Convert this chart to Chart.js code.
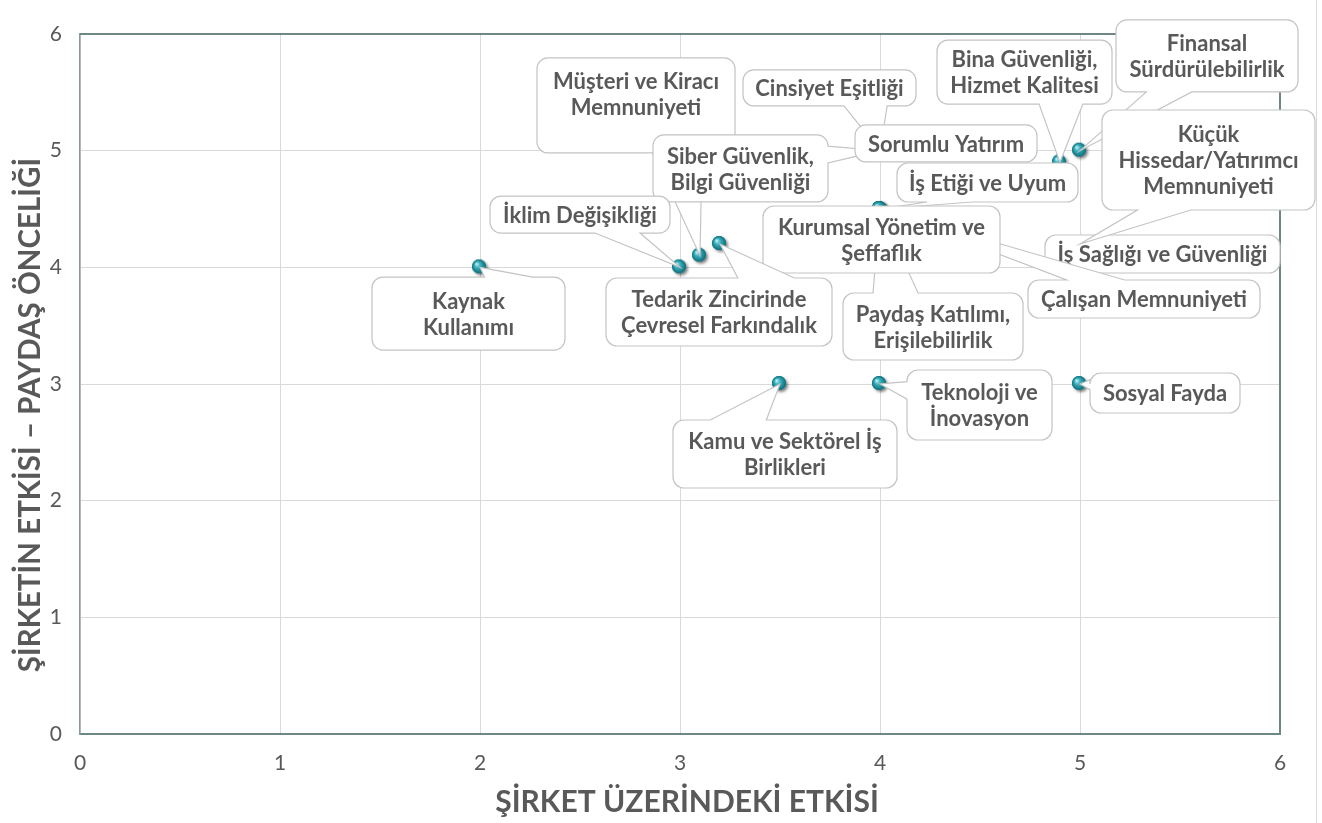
<!DOCTYPE html>
<html>
<head>
<meta charset="utf-8">
<script src="https://cdn.jsdelivr.net/npm/chart.js@4.4.1/dist/chart.umd.min.js"></script>
<style>
  html, body { margin: 0; padding: 0; background: #ffffff; }
  #wrap { width: 1322px; height: 823px; position: relative; }
  canvas { display: block; }
</style>
</head>
<body>
<div id="wrap"><canvas id="c" width="1322" height="823"></canvas></div>
<script>
// ---------- DATA ----------
const topics = [
  "Kaynak\nKullanımı",
  "İklim Değişikliği",
  "Siber Güvenlik,\nBilgi Güvenliği",
  "Tedarik Zincirinde\nÇevresel Farkındalık",
  "Müşteri ve Kiracı\nMemnuniyeti",
  "Cinsiyet Eşitliği",
  "Sorumlu Yatırım",
  "İş Etiği ve Uyum",
  "Kurumsal Yönetim ve\nŞeffaflık",
  "Paydaş Katılımı,\nErişilebilirlik",
  "Çalışan Memnuniyeti",
  "İş Sağlığı ve Güvenliği",
  "Küçük\nHissedar/Yatırımcı\nMemnuniyeti",
  "Bina Güvenliği,\nHizmet Kalitesi",
  "Finansal\nSürdürülebilirlik",
  "Kamu ve Sektörel İş\nBirlikleri",
  "Teknoloji ve\nİnovasyon",
  "Sosyal Fayda"
];
// x: Şirket üzerindeki etkisi
const impactOnCompany = [2, 3, 4, 3.2, 3.1, 4, 4, 4, 4, 4, 4, 5, 5, 4.9, 5, 3.5, 4, 5];
// y: Şirketin etkisi – paydaş önceliği
const stakeholderPriority = [4, 4, 5, 4.2, 4.1, 5, 5, 4.5, 4.5, 4.5, 4.5, 4.2, 4.2, 4.9, 5, 3, 3, 3];
const tickValues = [0, 1, 2, 3, 4, 5, 6];
const xAxisTitle = "ŞİRKET ÜZERİNDEKİ ETKİSİ";
const yAxisTitle = "ŞİRKETİN ETKİSİ – PAYDAŞ ÖNCELİĞİ";

// ---------- LAYOUT (callout boxes: centre offset from point, width, height, text offset) ----------
const calloutLayout = [
  [-11.5, 46.2, 193, 73, 0],
  [-100, -52.8, 180, 37, 0],
  [-139.5, 17.8, 175, 67, 0],
  [-1, 68, 226, 68, 0],
  [-64, -150.2, 198, 95, -12],
  [-50.5, -62.7, 173, 36, 0],
  [66, -7.2, 182, 37, 0],
  [107.5, -26.5, 181, 39, 0],
  [1.5, 30.5, 237, 67, 0],
  [53, 117.5, 180, 67, 0],
  [264, 90, 232, 38, 0],
  [82.5, 10, 235, 38, 0],
  [128.5, -84, 213, 100, 0],
  [-35.5, -90.3, 175, 64, 0],
  [127, -94.7, 182, 72, 0],
  [5, 70, 224, 68, 0],
  [99.5, 21, 145, 70, 0],
  [85, 9, 150, 40, 0]
];
const drawOrder = [4, 5, 2, 6, 7, 11, 10, 9, 8, 13, 14, 12, 1, 0, 3, 15, 16, 17];

const TEXT = '#595959';
const FRAME = '#6f8784';
const GRID = '#d9d9d9';

// sphere marker
function makeSphere() {
  const c = document.createElement('canvas');
  c.width = 28; c.height = 28;
  const g = c.getContext('2d');
  const cx = 13, cy = 13, r = 7;
  g.save();
  g.shadowColor = 'rgba(0,0,0,0.5)';
  g.shadowBlur = 3;
  g.shadowOffsetX = 2;
  g.shadowOffsetY = 2;
  g.beginPath(); g.arc(cx, cy, r, 0, Math.PI * 2);
  g.fillStyle = '#1b8e9b';
  g.fill();
  g.restore();
  const grad = g.createRadialGradient(cx - 2.5, cy - 2.5, 0.5, cx, cy, r);
  grad.addColorStop(0, '#b9eef2');
  grad.addColorStop(0.35, '#3fb3c0');
  grad.addColorStop(1, '#0c6d7a');
  g.beginPath(); g.arc(cx, cy, r, 0, Math.PI * 2);
  g.fillStyle = grad; g.fill();
  return c;
}

function calloutPath(ctx, bx, by, w, h, r, tx, ty) {
  const cx = bx + w / 2, cy = by + h / 2;
  let side = null, a, b;
  const inside = tx >= bx && tx <= bx + w && ty >= by && ty <= by + h;
  if (!inside) {
    const dx = tx - cx, dy = ty - cy;
    const dq = dx * h / w;
    if (Math.abs(dy) > Math.abs(dq)) {
      side = dy < 0 ? 'top' : 'bottom';
      a = bx + w * (dx > 0 ? 7 : 2) / 12; b = bx + w * (dx > 0 ? 10 : 5) / 12;
    } else {
      side = dx < 0 ? 'left' : 'right';
      a = by + h * (dy > 0 ? 7 : 2) / 12; b = by + h * (dy > 0 ? 10 : 5) / 12;
    }
  }
  ctx.beginPath();
  ctx.moveTo(bx + r, by);
  if (side === 'top') { ctx.lineTo(a, by); ctx.lineTo(tx, ty); ctx.lineTo(b, by); }
  ctx.lineTo(bx + w - r, by);
  ctx.arcTo(bx + w, by, bx + w, by + r, r);
  if (side === 'right') { ctx.lineTo(bx + w, a); ctx.lineTo(tx, ty); ctx.lineTo(bx + w, b); }
  ctx.lineTo(bx + w, by + h - r);
  ctx.arcTo(bx + w, by + h, bx + w - r, by + h, r);
  if (side === 'bottom') { ctx.lineTo(b, by + h); ctx.lineTo(tx, ty); ctx.lineTo(a, by + h); }
  ctx.lineTo(bx + r, by + h);
  ctx.arcTo(bx, by + h, bx, by + h - r, r);
  if (side === 'left') { ctx.lineTo(bx, b); ctx.lineTo(tx, ty); ctx.lineTo(bx, a); }
  ctx.lineTo(bx, by + r);
  ctx.arcTo(bx, by, bx + r, by, r);
  ctx.closePath();
}

const frameAndCallouts = {
  id: 'frameAndCallouts',
  afterDatasetsDraw(chart) {
    const ctx = chart.ctx;
    const area = chart.chartArea;
    ctx.save();
    ctx.strokeStyle = FRAME; ctx.lineWidth = 2;
    ctx.beginPath();
    ctx.moveTo(area.left, area.top); ctx.lineTo(area.right, area.top);
    ctx.lineTo(area.right, area.bottom);
    ctx.stroke();
    ctx.restore();

    const meta = chart.getDatasetMeta(0);
    ctx.save();
    ctx.font = 'bold 22px Lato';
    ctx.textAlign = 'center';
    ctx.textBaseline = 'middle';
    drawOrder.forEach(i => {
      const el = meta.data[i];
      const [dx, dy, w, h, tdy] = calloutLayout[i];
      const bx = el.x + dx - w / 2, by = el.y + dy - h / 2;
      calloutPath(ctx, bx, by, w, h, 11, el.x, el.y);
      ctx.fillStyle = '#ffffff';
      ctx.fill();
      ctx.strokeStyle = '#c4c4c4';
      ctx.lineWidth = 1.2;
      ctx.stroke();
      const lines = topics[i].split('\n');
      const lh = 26;
      const cy = el.y + dy + tdy;
      ctx.fillStyle = TEXT;
      lines.forEach((ln, k) => {
        ctx.fillText(ln, el.x + dx, cy + (k - (lines.length - 1) / 2) * lh + 1);
      });
    });
    ctx.restore();
  },
  afterDraw(chart) {
    const ctx = chart.ctx;
    const area = chart.chartArea;
    ctx.save();
    ctx.strokeStyle = '#d9d9d9'; ctx.lineWidth = 1;
    ctx.beginPath(); ctx.moveTo(1316.5, 0); ctx.lineTo(1316.5, 823); ctx.stroke();
    // axis titles
    ctx.fillStyle = TEXT;
    ctx.textAlign = 'center';
    ctx.textBaseline = 'middle';
    ctx.font = 'bold 30px Lato';
    ctx.fillText(xAxisTitle, (area.left + area.right) / 2 + 7, 802);
    ctx.translate(30, (area.top + area.bottom) / 2 + 31);
    ctx.rotate(-Math.PI / 2);
    ctx.font = 'bold 29.5px Lato';
    ctx.fillText(yAxisTitle, 0, 0);
    ctx.restore();
  }
};

function build() {
  const sphere = makeSphere();
  const pts = impactOnCompany.map((x, i) => ({ x: x, y: stakeholderPriority[i] }));
  new Chart(document.getElementById('c'), {
    type: 'scatter',
    data: {
      datasets: [{
        label: 'Önceliklendirme',
        data: pts,
        pointStyle: sphere,
        pointRadius: 7,
        pointHoverRadius: 7
      }]
    },
    options: {
      responsive: false,
      animation: false,
      devicePixelRatio: 1,
      layout: { padding: { top: 34, right: 42, left: 0, bottom: 0 } },
      plugins: { legend: { display: false }, tooltip: { enabled: false } },
      scales: {
        x: {
          type: 'linear', min: 0, max: 6,
          afterBuildTicks: s => { s.ticks = tickValues.map(v => ({ value: v })); },
          afterFit: s => { s.height = 89; },
          ticks: { color: TEXT, font: { family: 'Lato', size: 21 }, padding: 17 },
          grid: { color: GRID, lineWidth: 1, drawTicks: false },
          border: { display: true, color: FRAME, width: 2 },
          title: { display: false }
        },
        y: {
          type: 'linear', min: 0, max: 6,
          afterBuildTicks: s => { s.ticks = tickValues.map(v => ({ value: v })); },
          afterFit: s => { s.width = 80; },
          ticks: { color: TEXT, font: { family: 'Lato', size: 21 }, padding: 18 },
          grid: { color: GRID, lineWidth: 1, drawTicks: false },
          border: { display: true, color: '#8a9a98', width: 1.5 },
          title: { display: false }
        }
      }
    },
    plugins: [frameAndCallouts]
  });
}

const fontLoads = ['bold 22px Lato', '21px Lato', 'bold 30px Lato'].map(f => document.fonts.load(f).catch(() => null));
Promise.all(fontLoads).then(build, build);
</script>
</body>
</html>
